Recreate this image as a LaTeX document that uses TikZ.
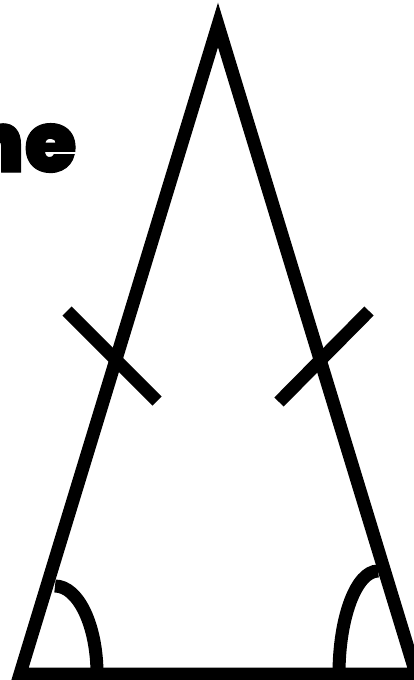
\documentclass[tikz,border=0pt]{standalone}
\usepackage{fontspec}
\IfFontExistsTF{Poppins Black}{\newfontfamily\heavyfont{Poppins Black}[FakeBold=1.2]}{\newfontfamily\heavyfont{DejaVu Sans Bold}[FakeBold=1.2]}
\begin{document}
\begin{tikzpicture}[x=1pt,y=-1pt,
  edge/.style={line width=13pt,line join=miter,line cap=butt,black},
  label/.style={font=\heavyfont\fontsize{85}{85}\selectfont,inner sep=0pt,anchor=base east}]
\useasboundingbox (0,0) rectangle (414,680);
\clip (0,0) rectangle (414,680);
\fill[white] (0,0) rectangle (414,680);
\coordinate (A) at (218,25);
\coordinate (L) at (20,674);
\coordinate (R) at (416,674);
\draw[edge] (L) -- (A) -- (R) -- cycle;
% tick marks
\coordinate (t1a) at (67,311);
\coordinate (t1b) at (157,401);
\coordinate (t2a) at (369,311);
\coordinate (t2b) at (279,402);
\draw[edge] (t1a) -- (t1b);
\draw[edge] (t2a) -- (t2b);
% angle arcs
\coordinate (a1) at (55,586);
\coordinate (a2) at (378,571);
\draw[edge] (a1) arc[start angle=90,end angle=0,x radius=42,y radius=-88];
\draw[edge] (a2) arc[start angle=90,end angle=180,x radius=39,y radius=-103];
\node[label] (txt) at (77,172) {ne};
\end{tikzpicture}
\end{document}
